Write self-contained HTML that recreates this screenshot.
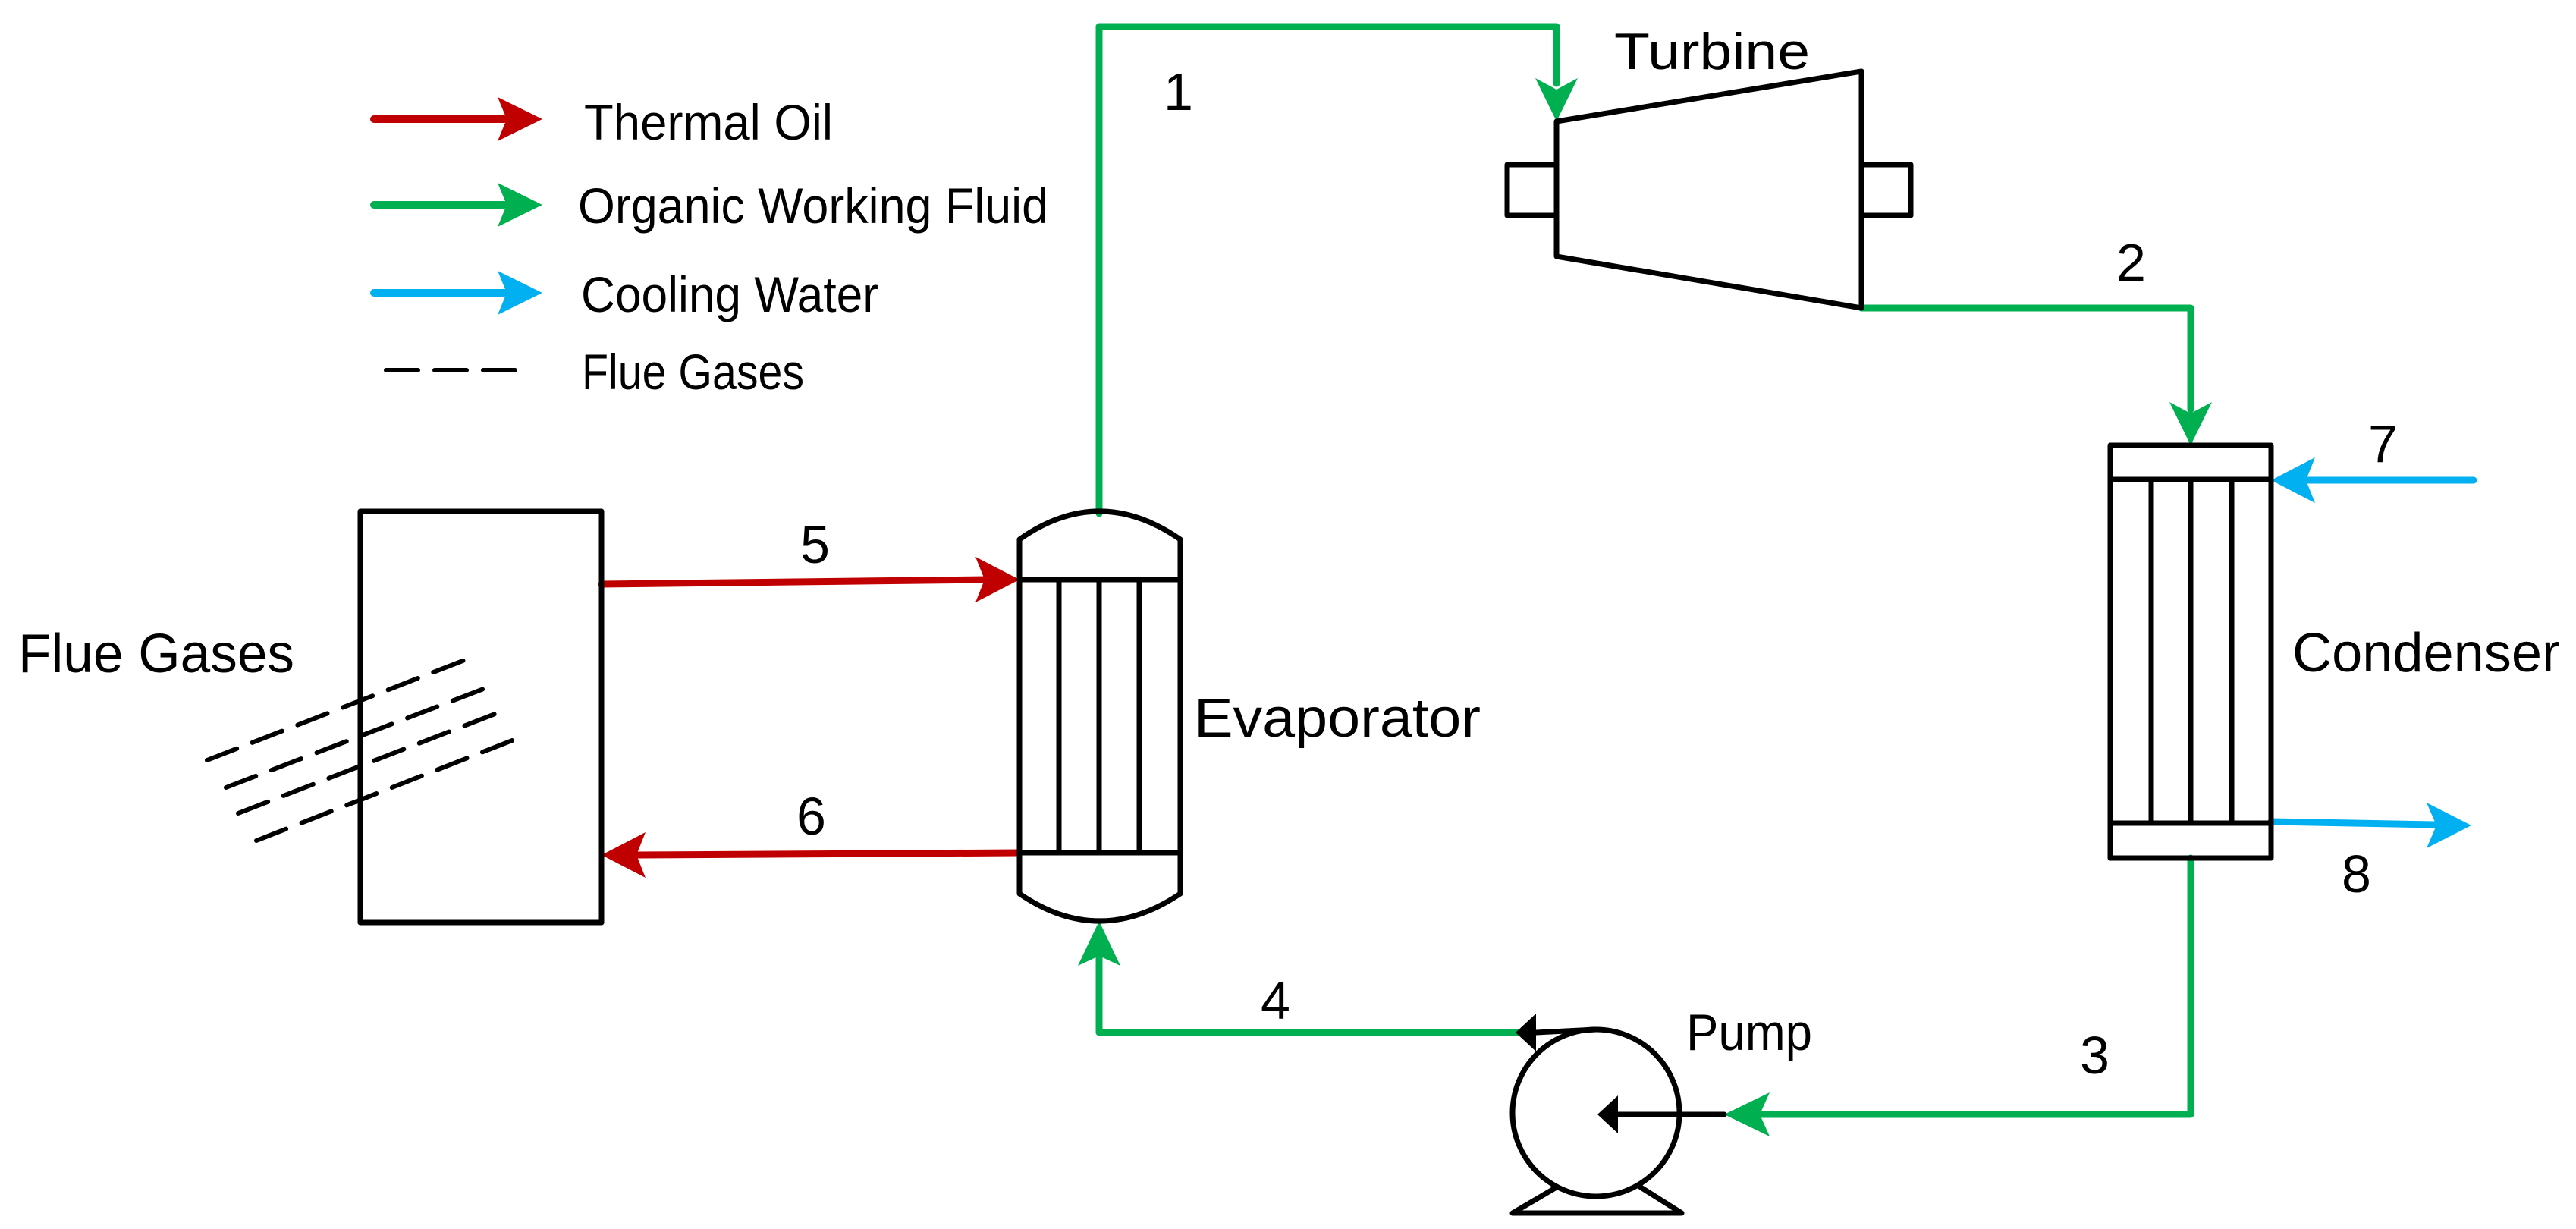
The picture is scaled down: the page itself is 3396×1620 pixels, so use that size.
<!DOCTYPE html>
<html><head><meta charset="utf-8"><style>html,body{margin:0;padding:0;background:#fff}svg{display:block}text{font-family:"Liberation Sans",sans-serif;fill:#000}</style></head><body>
<svg width="3396" height="1620" viewBox="0 0 3396 1620" xmlns="http://www.w3.org/2000/svg">
<g stroke-linecap="round" stroke-linejoin="round" fill="none">
<!-- legend -->
<line x1="493" y1="157" x2="665" y2="157" stroke="#C00000" stroke-width="10"/>
<polygon points="715,157 656,128 668,157 656,186" fill="#C00000"/>
<line x1="493" y1="270" x2="665" y2="270" stroke="#00B050" stroke-width="10"/>
<polygon points="715,270 656,241 668,270 656,299" fill="#00B050"/>
<line x1="493" y1="386" x2="665" y2="386" stroke="#00B0F0" stroke-width="10"/>
<polygon points="715,386 656,357 668,386 656,415" fill="#00B0F0"/>
<line x1="509" y1="488" x2="686" y2="488" stroke="#000" stroke-width="6" stroke-dasharray="42,22"/>

<!-- green loop -->
<polyline points="1449,677 1449,35 2052,35 2052,110" stroke="#00B050" stroke-width="9"/>
<polygon points="2052,160 2024,103 2052,118 2080,103" fill="#00B050"/>
<polyline points="2454,406 2888,406 2888,540" stroke="#00B050" stroke-width="9"/>
<polygon points="2888,587 2860,530 2888,545 2916,530" fill="#00B050"/>
<polyline points="2888,1131 2888,1469 2320,1469" stroke="#00B050" stroke-width="9"/>
<polygon points="2273,1469 2333,1440 2320,1469 2333,1498" fill="#00B050"/>
<polyline points="2000,1361 1449,1361 1449,1260" stroke="#00B050" stroke-width="9"/>
<polygon points="1449,1214 1421,1273 1449,1260 1477,1273" fill="#00B050"/>

<!-- red -->
<line x1="793" y1="770" x2="1300" y2="764" stroke="#C00000" stroke-width="9"/>
<polygon points="1344,764 1286,734 1298,764 1286,794" fill="#C00000"/>
<line x1="1344" y1="1124" x2="840" y2="1127" stroke="#C00000" stroke-width="9"/>
<polygon points="793,1127 851,1097 839,1127 851,1157" fill="#C00000"/>

<!-- cyan -->
<line x1="3261" y1="633" x2="3040" y2="633" stroke="#00B0F0" stroke-width="9"/>
<polygon points="2994,633 3052,603 3040,633 3052,663" fill="#00B0F0"/>
<line x1="2994" y1="1083" x2="3210" y2="1087" stroke="#00B0F0" stroke-width="9"/>
<polygon points="3258,1088 3199,1058 3212,1088 3199,1118" fill="#00B0F0"/>

<!-- turbine -->
<polygon points="2052,160 2454,94 2454,406 2052,338" stroke="#000" stroke-width="7"/>
<rect x="1987" y="217" width="65" height="67" stroke="#000" stroke-width="7"/>
<rect x="2454" y="217" width="65" height="67" stroke="#000" stroke-width="7"/>

<!-- condenser -->
<rect x="2782" y="587" width="212" height="544" stroke="#000" stroke-width="7"/>
<line x1="2782" y1="632" x2="2994" y2="632" stroke="#000" stroke-width="7"/>
<line x1="2782" y1="1085" x2="2994" y2="1085" stroke="#000" stroke-width="7"/>
<line x1="2836" y1="632" x2="2836" y2="1085" stroke="#000" stroke-width="7"/>
<line x1="2888" y1="632" x2="2888" y2="1085" stroke="#000" stroke-width="7"/>
<line x1="2942" y1="632" x2="2942" y2="1085" stroke="#000" stroke-width="7"/>

<!-- evaporator -->
<path d="M1344,1178 L1344,711 Q1449,637 1556,711 L1556,1178 Q1449,1250 1344,1178 Z" stroke="#000" stroke-width="7"/>
<line x1="1344" y1="764" x2="1556" y2="764" stroke="#000" stroke-width="7"/>
<line x1="1344" y1="1124" x2="1556" y2="1124" stroke="#000" stroke-width="7"/>
<line x1="1396" y1="764" x2="1396" y2="1124" stroke="#000" stroke-width="7"/>
<line x1="1449" y1="764" x2="1449" y2="1124" stroke="#000" stroke-width="7"/>
<line x1="1502" y1="764" x2="1502" y2="1124" stroke="#000" stroke-width="7"/>

<!-- flue box -->
<rect x="475" y="674" width="318" height="542" stroke="#000" stroke-width="7"/>
<g stroke="#000" stroke-width="6" stroke-dasharray="42,22">
<line x1="273" y1="1002" x2="623" y2="866"/>
<line x1="298" y1="1038" x2="648" y2="904"/>
<line x1="314" y1="1072" x2="663" y2="937"/>
<line x1="338" y1="1108" x2="688" y2="971"/>
</g>

<!-- pump -->
<circle cx="2104" cy="1467" r="110" stroke="#000" stroke-width="7"/>
<line x1="2025" y1="1361" x2="2104" y2="1357" stroke="#000" stroke-width="7"/>
<polygon points="1998,1361 2025,1336 2025,1386" fill="#000"/>
<line x1="2273" y1="1469" x2="2130" y2="1469" stroke="#000" stroke-width="7"/>
<polygon points="2106,1469 2133,1444 2133,1494" fill="#000"/>
<polyline points="2052,1565 1994,1599 2217,1599 2163,1565" stroke="#000" stroke-width="7"/>
</g>

<!-- text -->
<text x="770" y="184" font-size="66" textLength="328" lengthAdjust="spacingAndGlyphs">Thermal Oil</text>
<text x="762" y="294" font-size="66" textLength="620" lengthAdjust="spacingAndGlyphs">Organic Working Fluid</text>
<text x="766" y="411" font-size="66" textLength="392" lengthAdjust="spacingAndGlyphs">Cooling Water</text>
<text x="767" y="513" font-size="66" textLength="293" lengthAdjust="spacingAndGlyphs">Flue Gases</text>
<text x="24" y="886" font-size="72" textLength="364" lengthAdjust="spacingAndGlyphs">Flue Gases</text>
<text x="1574" y="971" font-size="72" textLength="378" lengthAdjust="spacingAndGlyphs">Evaporator</text>
<text x="3022" y="885" font-size="72" textLength="353" lengthAdjust="spacingAndGlyphs">Condenser</text>
<text x="2128" y="91" font-size="68" textLength="258" lengthAdjust="spacingAndGlyphs">Turbine</text>
<text x="2223" y="1384" font-size="68" textLength="166" lengthAdjust="spacingAndGlyphs">Pump</text>
<g font-size="70">
<text x="1534" y="145">1</text>
<text x="2790" y="370">2</text>
<text x="2742" y="1415">3</text>
<text x="1662" y="1343">4</text>
<text x="1055" y="742">5</text>
<text x="1050" y="1100">6</text>
<text x="3122" y="609">7</text>
<text x="3087" y="1176">8</text>
</g>
</svg>
</body></html>
